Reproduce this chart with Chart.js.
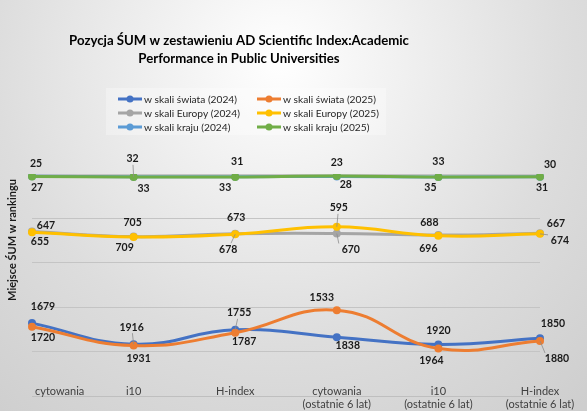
<!DOCTYPE html>
<html>
<head>
<meta charset="utf-8">
<script src="https://cdn.jsdelivr.net/npm/chart.js@4.4.1/dist/chart.umd.min.js"></script>
<style>
  html, body { margin: 0; padding: 0; }
  #wrap { width: 587px; height: 411px; position: relative; }
</style>
</head>
<body>
<div id="wrap"><canvas id="rankChart"></canvas></div>
<script>
// Categories (x axis)
const categories = [
    'cytowania',
    'i10',
    'H-index',
    ['cytowania', '(ostatnie 6 lat)'],
    ['i10', '(ostatnie 6 lat)'],
    ['H-index', '(ostatnie 6 lat)']
];

// Ranking positions
const swiat2024 = [1679, 1916, 1755, 1838, 1920, 1850];
const swiat2025 = [1720, 1931, 1787, 1533, 1964, 1880];
const europa2024 = [647, 705, 673, 670, 688, 667];
const europa2025 = [655, 709, 678, 595, 696, 674];
const kraj2024 = [25, 32, 31, 28, 33, 30];
const kraj2025 = [27, 33, 33, 23, 35, 31];

const seriesNames = [
    'w skali świata (2024)', 'w skali świata (2025)',
    'w skali Europy (2024)', 'w skali Europy (2025)',
    'w skali kraju (2024)', 'w skali kraju (2025)'
];

const chartTitle = ['Pozycja ŚUM w zestawieniu AD Scientific Index:Academic', 'Performance in Public Universities'];
const yTitle = 'Miejsce ŚUM w rankingu';

// Colors (Office palette)
const colors = ['#4472C4', '#ED7D31', '#A5A5A5', '#FFC000', '#5B9BD5', '#70AD47'];

// Data label placement per series: [dx, dy, leaderLine]
const labelOffsets = [
    [[11, -16], [-2, -17, 1], [4, -17, 1], [11, 8], [0, -14], [13, -15]],
    [[11, 11], [5, 13], [9, 9], [-15, -13], [-7, 12], [17, 18, 1]],
    [[14, -6], [-1, -14], [1, -16], [14, 16, 1], [-9, -12], [16, -10]],
    [[8, 9], [-9, 11], [-7, 15, 1], [2, -19, 1], [-10, 13], [20, 7, 1]],
    [[4, -13], [-1, -18, 1], [2, -15], [9, 8], [0, -15], [10, -12]],
    [[5, 11], [10, 12], [-10, 11], [0, -13], [-8, 11], [2, 11]]
];

const allSeries = [swiat2024, swiat2025, europa2024, europa2025, kraj2024, kraj2025];

// later series are painted on top, like in Excel
const datasets = allSeries.map((values, i) => ({
    label: seriesNames[i],
    data: values,
    order: allSeries.length - i,
    borderColor: colors[i],
    backgroundColor: colors[i],
    borderWidth: 3,
    pointRadius: 4,
    pointHoverRadius: 4,
    pointBorderWidth: 0,
    tension: 0.45,
    fill: false
}));

// Background, title, legend and data labels drawn Excel-style
const excelLook = {
    id: 'excelLook',
    beforeDraw(chart) {
        const ctx = chart.ctx;
        const w = chart.width, h = chart.height;
        ctx.save();
        const g = ctx.createRadialGradient(280, 60, 0, 280, 60, 460);
        g.addColorStop(0, '#ffffff');
        g.addColorStop(0.62, '#dddddd');
        g.addColorStop(1, '#cecece');
        ctx.fillStyle = g;
        ctx.fillRect(0, 0, w, h);

        // title
        ctx.fillStyle = '#000000';
        ctx.font = 'bold 13.2px Lato';
        ctx.textAlign = 'center';
        ctx.textBaseline = 'middle';
        ctx.fillText(chartTitle[0], 239, 41);
        ctx.fillText(chartTitle[1], 239, 59);

        // y axis title
        ctx.save();
        ctx.translate(12, 240);
        ctx.rotate(-Math.PI / 2);
        ctx.font = 'bold 11px Lato';
        ctx.fillStyle = '#1a1a1a';
        ctx.fillText(yTitle, 0, 0);
        ctx.restore();

        // legend box
        ctx.fillStyle = 'rgba(255,255,255,0.3)';
        ctx.fillRect(106, 88, 280, 47);
        ctx.font = '10.2px Lato';
        ctx.textAlign = 'left';
        seriesNames.forEach((name, i) => {
            const col = i % 2, row = Math.floor(i / 2);
            const x = col === 0 ? 118 : 257;
            const y = 99 + row * 14;
            ctx.strokeStyle = colors[i];
            ctx.lineWidth = 3;
            ctx.beginPath();
            ctx.moveTo(x, y);
            ctx.lineTo(x + 24, y);
            ctx.stroke();
            ctx.fillStyle = colors[i];
            ctx.beginPath();
            ctx.arc(x + 12, y, 3.5, 0, Math.PI * 2);
            ctx.fill();
            ctx.fillStyle = '#262626';
            ctx.fillText(name, x + 26, y + 0.5);
        });
        ctx.restore();

        // Excel keeps the first category label inside the plot: left-align it
        try {
            const items = chart.scales.x.getLabelItems(chart.chartArea);
            if (items && items[0] && items[0].options) {
                items[0].options.textAlign = 'left';
                items[0].options.translation[0] = chart.chartArea.left + 3;
            }
        } catch (e) {
            console.warn('label tweak skipped', e);
        }
    },
    afterDatasetsDraw(chart) {
        const ctx = chart.ctx;
        ctx.save();
        ctx.font = 'bold 10.5px Lato';
        ctx.textAlign = 'center';
        ctx.textBaseline = 'middle';
        chart.data.datasets.forEach((ds, i) => {
            const meta = chart.getDatasetMeta(i);
            meta.data.forEach((pt, j) => {
                const off = labelOffsets[i][j];
                const lx = pt.x + off[0], ly = pt.y + off[1];
                if (off[2]) {
                    ctx.strokeStyle = '#8c8c8c';
                    ctx.lineWidth = 0.8;
                    ctx.beginPath();
                    ctx.moveTo(pt.x, pt.y);
                    const ex = Math.abs(off[0]) > 12 ? lx - Math.sign(off[0]) * 12 : lx - off[0] * 0.4;
                    const ey = ly - Math.sign(off[1]) * 6;
                    ctx.lineTo(ex, ey);
                    ctx.stroke();
                }
                ctx.fillStyle = '#1a1a1a';
                ctx.fillText(String(ds.data[j]), lx, ly);
            });
        });
        ctx.restore();
    }
};

const ctx = document.getElementById('rankChart').getContext('2d');
new Chart(ctx, {
    type: 'line',
    data: {
        labels: categories,
        datasets: datasets
    },
    options: {
        responsive: true,
        maintainAspectRatio: false,
        animation: false,
        layout: {
            padding: { top: 174, left: 32, right: 47, bottom: 0 }
        },
        plugins: {
            legend: { display: false },
            title: { display: false },
            tooltip: { enabled: false }
        },
        scales: {
            x: {
                offset: false,
                grid: { display: false, drawTicks: false },
                border: { display: true, color: '#bfbfbf', width: 1 },
                ticks: {
                    mirror: true,
                    padding: -2,
                    maxRotation: 0,
                    autoSkip: false,
                    color: '#404040',
                    font: { family: 'Lato', size: 11, lineHeight: 1.1 }
                },
                afterFit(scale) { scale.height = 15; }
            },
            y: {
                reverse: true,
                min: 0,
                max: 2500,
                grid: { color: '#c4c4c4', drawTicks: false },
                border: { display: false },
                ticks: { display: false, stepSize: 500 },
                afterFit(scale) { scale.width = 0; }
            }
        }
    },
    plugins: [excelLook]
});
</script>
</body>
</html>
